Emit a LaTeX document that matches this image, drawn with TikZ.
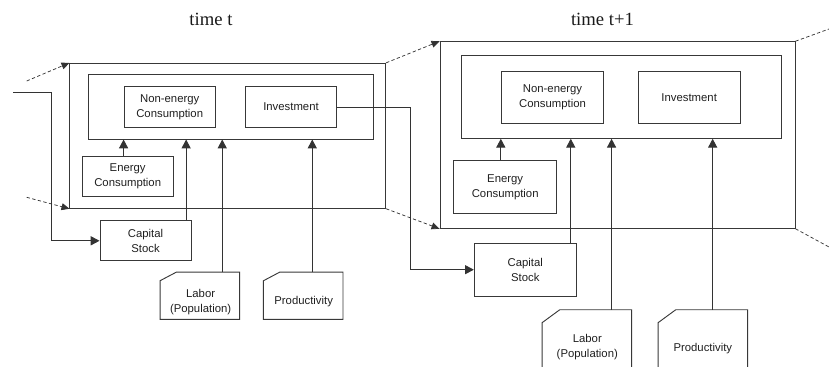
\documentclass[tikz,border=0pt]{standalone}
\usepackage{fontspec}
\setmainfont{Liberation Serif}
\setsansfont{Liberation Sans}
\usetikzlibrary{arrows.meta,calc}
\begin{document}
\begin{tikzpicture}[x=0.75pt,y=-0.75pt,
  sz/.style 2 args={minimum width=#1*0.75pt, minimum height=#2*0.75pt},
  box/.style={draw=black!78, line width=0.7pt, rectangle, inner sep=0pt},
  blank/.style={rectangle, inner sep=0pt},
  txt/.style={font=\sffamily\fontsize{8.5}{11.25}\selectfont, align=center, text=black!88},
  ttl/.style={font=\fontsize{14}{16}\selectfont, text=black!90, anchor=base, inner sep=0pt},
  outline/.style={draw=black!78, line width=0.7pt},
  arr/.style={draw=black!80, line width=0.7pt, -{Triangle[length=6.6pt,width=6.8pt]}},
  dsh/.style={draw=black!80, line width=0.55pt, dash pattern=on 2.5pt off 1.8pt},
  dsharr/.style={dsh, -{Triangle[length=6pt,width=5.2pt]}}
]
\useasboundingbox (0,0) rectangle (829,367);
\clip (0,0) rectangle (829,367);

% titles
\node[ttl] (tT) at (211,26) {time t};
\node[ttl] (tR) at (602.5,26) {time t+1};

% ---------- time t ----------
\node[box,sz={315.7}{145}] (outerT) at (227.8,135.8) {};
\node[box,sz={285}{64.7}] (innerT) at (230.8,106.7) {};
\node[box,txt,sz={91.3}{40.6}] (necT) at (169.7,107) {Non-energy\\Consumption};
\node[box,txt,sz={91.4}{40.6}] (invT) at (291,107) {Investment};
\node[box,txt,sz={91.3}{40.4}] (ecT) at (127.7,176.5) {Energy\\Consumption};
\node[box,txt,sz={91}{40.3}] (ksT) at (145.5,240.8) {Capital\\Stock};
\node[blank,sz={79}{46.7}] (labT) at (199.8,295.7) {};
\node[blank,sz={79}{46.7}] (proT) at (303.2,295.7) {};
\draw[outline] ([yshift=-6.5pt]labT.north west) -- ([xshift=12.3pt]labT.north west) -- (labT.north east) -- (labT.south east) -- (labT.south west) -- cycle;
\draw[outline] ([yshift=-6.5pt]proT.north west) -- ([xshift=12.3pt]proT.north west) -- (proT.north east) -- (proT.south east) -- (proT.south west) -- cycle;
\node[txt] (labTt) at ($(labT)+(0.8,6)$) {Labor\\(Population)};
\node[txt] (proTt) at ($(proT)+(0.5,6)$) {Productivity};

% ---------- time t+1 ----------
\node[box,sz={355}{186.6}] (outerR) at (617.5,135) {};
\node[box,sz={320}{82.6}] (innerR) at (621,97) {};
\node[box,txt,sz={102.4}{52}] (necR) at (552.5,97.3) {Non-energy\\Consumption};
\node[box,txt,sz={101.7}{52}] (invR) at (689.2,97.3) {Investment};
\node[box,txt,sz={103}{52.6}] (ecR) at (505.2,187) {Energy\\Consumption};
\node[box,txt,sz={102}{52.7}] (ksR) at (525.3,269.7) {Capital\\Stock};
\node[blank,sz={89}{62}] (labR) at (586.8,341) {};
\node[blank,sz={89}{62}] (proR) at (702.8,341) {};
\draw[outline] ([yshift=-9.75pt]labR.north west) -- ([xshift=13.3pt]labR.north west) -- (labR.north east) -- (labR.south east) -- (labR.south west) -- cycle;
\draw[outline] ([yshift=-9.75pt]proR.north west) -- ([xshift=13.3pt]proR.north west) -- (proR.north east) -- (proR.south east) -- (proR.south west) -- cycle;
\node[txt] (labRt) at ($(labR)+(0.5,6.5)$) {Labor\\(Population)};
\node[txt] (proRt) at ($(proR)+(0,7.3)$) {Productivity};

% ---------- arrows into production blocks ----------
\draw[arr] (ecT.north -| necT.west) -- (innerT.south -| necT.west);
\coordinate (kT) at ([xshift=-4pt]ksT.north east);
\draw[arr] (kT) -- (kT |- innerT.south);
\coordinate (lT) at ([xshift=-13pt]labT.north east);
\draw[arr] (lT) -- (lT |- innerT.south);
\coordinate (pT) at ([xshift=6.8pt]proT.north);
\draw[arr] (pT) -- (pT |- innerT.south);

\draw[arr] (ecR.north -| necR.west) -- (innerR.south -| necR.west);
\coordinate (kR) at ([xshift=-4.5pt]ksR.north east);
\draw[arr] (kR) -- (kR |- innerR.south);
\coordinate (lR) at ([xshift=-15pt]labR.north east);
\draw[arr] (lR) -- (lR |- innerR.south);
\coordinate (pR) at ([xshift=7.4pt]proR.north);
\draw[arr] (pR) -- (pR |- innerR.south);

% ---------- capital flows ----------
\coordinate (in0) at (13,92.3);
\draw[arr] (in0) -- ++(38.7,0) |- (ksT.west);
\draw[arr] (invT.east) -- ++(73.3,0) |- (ksR.west);

% ---------- dashed time links ----------
\coordinate (dl1) at (26.7,81);
\coordinate (dl2) at (26.7,197.3);
\coordinate (dr1) at (829,29);
\coordinate (dr2) at (829,247);
\draw[dsharr] (dl1) -- (outerT.north west);
\draw[dsharr] (dl2) -- (outerT.south west);
\draw[dsharr] (outerT.north east) -- (outerR.north west);
\draw[dsharr] (outerT.south east) -- (outerR.south west);
\draw[dsh] (outerR.north east) -- (dr1);
\draw[dsh] (outerR.south east) -- (dr2);
\end{tikzpicture}
\end{document}
